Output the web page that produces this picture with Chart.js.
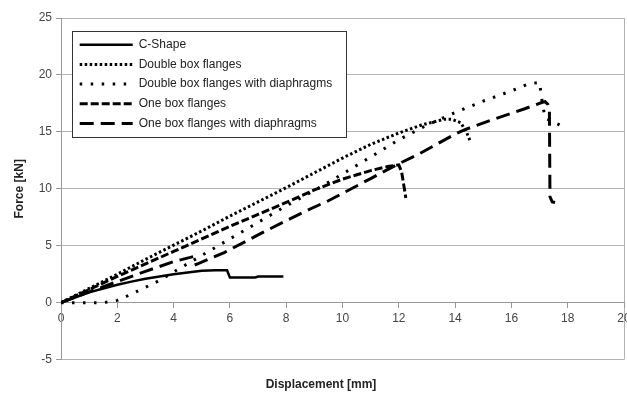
<!DOCTYPE html>
<html>
<head>
<meta charset="utf-8">
<script src="https://cdn.jsdelivr.net/npm/chart.js@4.4.0/dist/chart.umd.min.js"></script>
<style>
	body { margin: 0; background: #fff; }
</style>
</head>
<body>
<canvas id="myChart" width="627" height="393"></canvas>
<script>
// series names, as in the legend
const seriesNames = ['C-Shape', 'Double box flanges', 'Double box flanges with diaphragms', 'One box flanges', 'One box flanges with diaphragms'];

// displacement [mm] / force [kN]
const cShapeX = [0, 0.5, 1, 1.5, 2, 2.5, 3, 3.5, 4, 4.5, 5, 5.5, 5.9, 6.0, 6.9, 7.0, 7.9];
const cShapeY = [0, 0.45, 0.9, 1.25, 1.58, 1.85, 2.1, 2.3, 2.5, 2.65, 2.8, 2.85, 2.85, 2.2, 2.22, 2.3, 2.3];

const doubleBoxX = [0, 1, 2, 3, 4, 5, 6, 7, 8, 9, 10, 11, 12, 12.8, 13.6, 13.9, 14.2, 14.4, 14.55];
const doubleBoxY = [0, 1.25, 2.5, 3.8, 5.05, 6.3, 7.6, 8.85, 10.1, 11.4, 12.7, 13.9, 14.9, 15.6, 16.1, 16.1, 15.8, 15.0, 14.1];

const doubleBoxDiaX = [0, 0.5, 1, 1.5, 2, 2.5, 3, 3.5, 4, 5, 6, 7, 8, 9, 10, 11, 12, 13, 14, 15, 16, 16.6, 17.0, 17.1, 17.2, 17.9];
const doubleBoxDiaY = [0, 0, 0, 0, 0.2, 0.75, 1.35, 1.95, 2.7, 4.15, 5.6, 7.05, 8.5, 9.85, 11.3, 12.8, 14.3, 15.6, 16.7, 17.7, 18.6, 19.2, 19.35, 17.5, 16.2, 15.4];

const oneBoxX = [0, 1, 2, 3, 4, 5, 6, 7, 8, 9, 10, 11, 11.6, 12.0, 12.1, 12.25];
const oneBoxY = [0, 1.15, 2.3, 3.4, 4.5, 5.6, 6.7, 7.75, 8.8, 9.9, 10.85, 11.6, 11.95, 12.1, 11.5, 9.2];

const oneBoxDiaX = [0, 1, 2, 3, 4, 4.7, 4.8, 5.8, 7, 8, 9, 9.5, 11, 12, 12.75, 14, 14.35, 15.3, 16.5, 17.1, 17.2, 17.3, 17.35, 17.37, 17.45, 17.55];
const oneBoxDiaY = [0, 0.95, 1.85, 2.75, 3.6, 4.05, 3.35, 4.4, 5.95, 7.2, 8.4, 8.95, 10.9, 12.2, 13.1, 14.8, 15.2, 16.05, 17.05, 17.6, 17.65, 17.4, 17.0, 9.3, 8.85, 8.8];

// axis ranges and tick steps
const xMin = 0, xMax = 20, xStep = 2;
const yMin = -5, yMax = 25, yStep = 5;

function pts(xs, ys) {
	return xs.map((x, i) => ({ x: x, y: ys[i] }));
}

const lineDashes = [[], [2.5, 2.5], [2.5, 8.5], [8, 3], [14, 7]];
const lineWidths = [2.5, 3, 3, 3, 3];
const allData = [
	pts(cShapeX, cShapeY),
	pts(doubleBoxX, doubleBoxY),
	pts(doubleBoxDiaX, doubleBoxDiaY),
	pts(oneBoxX, oneBoxY),
	pts(oneBoxDiaX, oneBoxDiaY)
];

// legend sits inside the plot, with a white framed box
const legendBox = {
	id: 'legendBox',
	afterLayout(chart) {
		const a = chart.chartArea;
		const lg = chart.legend;
		lg.left = a.left + 11;
		lg.top = a.top + 13;
		lg.right = lg.left + 274;
		lg.bottom = a.bottom;
		chart.titleBlock.left = 18;
		if (!lg.framed) {
			const draw = lg.draw;
			lg.draw = function () {
				const c = this.ctx;
				c.save();
				c.fillStyle = '#fff';
				c.fillRect(this.left, this.top, 274, 106);
				c.strokeStyle = '#333';
				c.lineWidth = 1;
				c.strokeRect(this.left + 0.5, this.top + 0.5, 274, 106);
				c.restore();
				draw.call(this);
			};
			lg.framed = true;
		}
	}
};

Chart.defaults.font.family = "'Liberation Sans', Arial, sans-serif";

const ctx = document.getElementById('myChart');
const myChart = new Chart(ctx, {
	type: 'line',
	data: {
		datasets: seriesNames.map((name, i) => ({
			label: name,
			data: allData[i],
			borderColor: '#000',
			backgroundColor: '#000',
			borderWidth: lineWidths[i],
			borderDash: lineDashes[i],
			borderCapStyle: 'butt',
			pointRadius: 0,
			pointHoverRadius: 0,
			tension: 0,
			fill: false
		}))
	},
	options: {
		responsive: false,
		animation: false,
		devicePixelRatio: 1,
		events: [],
		layout: { padding: { top: 18, right: 3, left: 0, bottom: 0 } },
		scales: {
			x: {
				type: 'linear',
				position: { y: 0 },
				min: xMin,
				max: xMax,
				ticks: { stepSize: xStep, color: '#444', padding: 4, maxRotation: 0, font: { size: 12 } },
				grid: {
					color: c => (c.tick && c.tick.value === xMax ? '#b3b3b3' : 'rgba(0,0,0,0)'),
					tickColor: '#999',
					tickLength: 5
				},
				border: { color: '#999' },
				afterFit(s) {
					s.height = 0;
					s.paddingLeft = 0;
					s.paddingRight = 0;
				}
			},
			y: {
				min: yMin,
				max: yMax,
				ticks: { stepSize: yStep, color: '#444', padding: 4, font: { size: 12 } },
				grid: { color: '#b3b3b3', tickColor: '#999', tickLength: 5 },
				border: { color: '#999' },
				title: {
					display: true,
					text: 'Force [kN]',
					color: '#222',
					font: { size: 12, weight: 'bold' },
					padding: { top: 12.8, bottom: 0 }
				},
				afterFit(s) {
					s.width = 61;
				}
			}
		},
		plugins: {
			legend: {
				position: 'chartArea',
				align: 'start',
				labels: {
					usePointStyle: true,
					pointStyle: 'line',
					pointStyleWidth: 53,
					padding: 7.7,
					color: '#222',
					font: { size: 12 },
					generateLabels(chart) {
						const items = Chart.defaults.plugins.legend.labels.generateLabels(chart);
						items.forEach((it, i) => {
							it.lineDash = lineDashes[i];
							it.lineWidth = lineWidths[i];
							it.lineCap = 'butt';
						});
						return items;
					}
				}
			},
			title: {
				display: true,
				position: 'bottom',
				text: 'Displacement [mm]',
				color: '#222',
				font: { size: 12, weight: 'bold' },
				padding: { top: 18, bottom: 1 }
			},
			tooltip: { enabled: false }
		}
	},
	plugins: [legendBox]
});
</script>
</body>
</html>
